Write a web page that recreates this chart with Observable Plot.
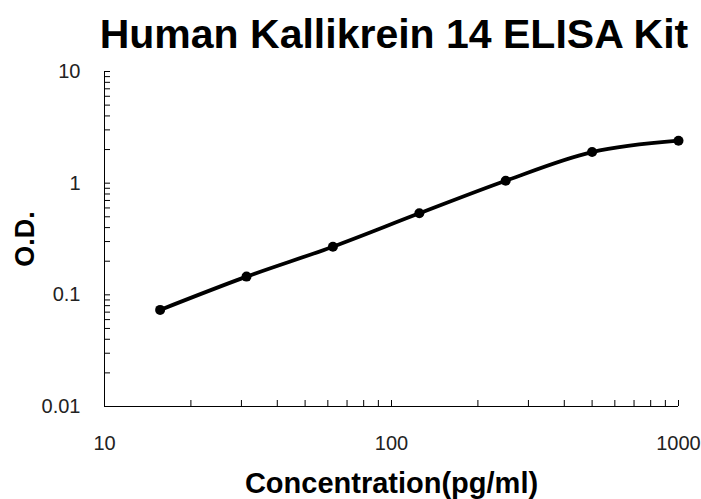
<!DOCTYPE html>
<html>
<head>
<meta charset="utf-8">
<script src="https://cdn.jsdelivr.net/npm/d3@7"></script>
<script src="https://cdn.jsdelivr.net/npm/@observablehq/plot@0.6"></script>
<style>
  html, body { margin: 0; padding: 0; background: #fff; }
  #wrap { width: 701px; height: 499px; position: relative; overflow: hidden; }
  #title {
    width: 701px; height: 55px; box-sizing: border-box;
    padding-top: 14px; padding-left: 87px;
    text-align: center; white-space: nowrap;
    font-family: "Liberation Sans", Arial, sans-serif;
    font-weight: bold; font-size: 41px; line-height: 41px; color: #000;
  }
  svg { display: block; }
</style>
</head>
<body>
<div id="wrap">
  <div id="title">Human Kallikrein 14 ELISA Kit</div>
  <div id="chart"></div>
</div>
<script>
// Data
const concentration = [15.625, 31.25, 62.5, 125, 250, 500, 1000];
const od = [0.0733, 0.1456, 0.270, 0.537, 1.052, 1.90, 2.40];

const xTickLabels = [10, 100, 1000];
const yTickLabels = [0.01, 0.1, 1, 10];
const xMinorTicks = [20, 30, 40, 50, 60, 70, 80, 90, 100, 200, 300, 400, 500, 600, 700, 800, 900, 1000];
const yMinorTicks = [0.01, 0.02, 0.03, 0.04, 0.05, 0.06, 0.07, 0.08, 0.09, 0.1, 0.2, 0.3, 0.4, 0.5, 0.6, 0.7, 0.8, 0.9, 1, 2, 3, 4, 5, 6, 7, 8, 9, 10];

const xLabel = "Concentration(pg/ml)";
const yLabel = "O.D.";

const points = concentration.map((c, i) => ({x: c, y: od[i]}));

const chart = Plot.plot({
  width: 701,
  height: 444,
  marginLeft: 104,
  marginRight: 23,
  marginTop: 16,
  marginBottom: 93,
  style: {fontFamily: "'Liberation Sans', Arial, sans-serif", background: "#fff", color: "#000"},
  x: {type: "log", domain: [10, 1000]},
  y: {type: "log", domain: [0.01, 10]},
  marks: [
    // axis lines
    Plot.ruleX([10], {stroke: "#000", strokeWidth: 1}),
    Plot.ruleY([0.01], {stroke: "#000", strokeWidth: 1}),
    // inward tick marks
    Plot.axisX(xMinorTicks, {anchor: "bottom", tickSize: 6, dy: -6, tickFormat: () => "", label: null, stroke: "#000"}),
    Plot.axisY(yMinorTicks, {anchor: "left", tickSize: 6, dx: 6, tickFormat: () => "", label: null, stroke: "#000"}),
    // tick labels
    Plot.axisX(xTickLabels, {anchor: "bottom", tickSize: 0, tickPadding: 29, fontSize: 20, fill: "#222", tickFormat: d => String(d), label: null}),
    Plot.axisY(yTickLabels, {anchor: "left", tickSize: 0, tickPadding: 24, fontSize: 20, fill: "#222", tickFormat: d => String(d), label: null}),
    // axis titles
    Plot.text([xLabel], {frameAnchor: "bottom", text: d => d, lineAnchor: "middle", textAnchor: "middle", dy: 77, fontSize: 29, fontWeight: "bold", fill: "#000"}),
    Plot.text([yLabel], {frameAnchor: "left", text: d => d, lineAnchor: "middle", textAnchor: "middle", dx: -79, rotate: -90, fontSize: 27, fontWeight: "bold", fill: "#000"}),
    // curve and points
    Plot.line(points, {x: "x", y: "y", curve: "catmull-rom", stroke: "#000", strokeWidth: 3.8}),
    Plot.dot(points, {x: "x", y: "y", r: 5, fill: "#000", stroke: "none"})
  ]
});
document.getElementById("chart").appendChild(chart);
</script>
</body>
</html>
